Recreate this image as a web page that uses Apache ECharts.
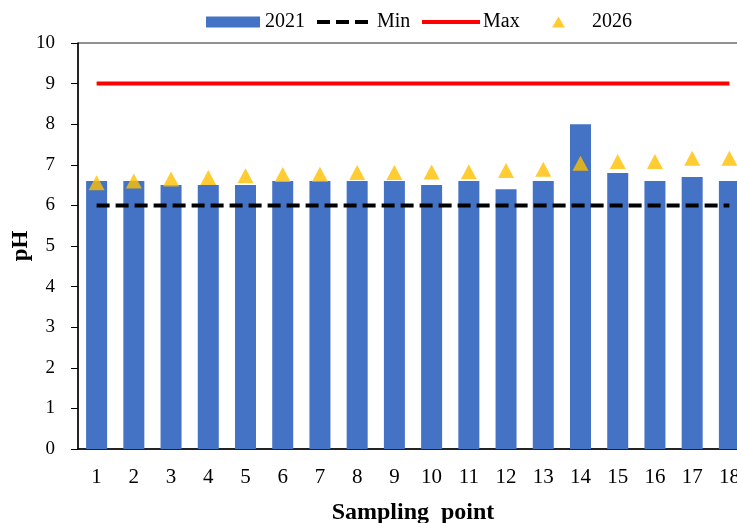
<!DOCTYPE html>
<html>
<head>
<meta charset="utf-8">
<script src="https://cdn.jsdelivr.net/npm/echarts@6/dist/echarts.min.js"></script>
<style>
  html, body { margin: 0; padding: 0; background: #fff; overflow: hidden; }
  /* 图比窗口宽一点，右边被裁掉，和原图一样 */
  #chart { width: 760px; height: 523px; }
</style>
</head>
<body>
<div id="chart"></div>
<script>
// 采样点
var points = ['1', '2', '3', '4', '5', '6', '7', '8', '9', '10', '11', '12', '13', '14', '15', '16', '17', '18'];
// 2021 实测
var ph2021 = [6.6, 6.6, 6.5, 6.5, 6.5, 6.6, 6.6, 6.6, 6.6, 6.5, 6.6, 6.4, 6.6, 8.0, 6.8, 6.6, 6.7, 6.6];
// 2026 预测
var ph2026 = [6.56, 6.6, 6.65, 6.69, 6.73, 6.76, 6.77, 6.81, 6.81, 6.82, 6.83, 6.86, 6.89, 7.04, 7.08, 7.08, 7.16, 7.16];
// 标准上下限
var minLimit = [6, 6, 6, 6, 6, 6, 6, 6, 6, 6, 6, 6, 6, 6, 6, 6, 6, 6];
var maxLimit = [9, 9, 9, 9, 9, 9, 9, 9, 9, 9, 9, 9, 9, 9, 9, 9, 9, 9];

(function () {
    var myChart = echarts.init(document.querySelector("#chart"));
    var font = 'Liberation Serif';
    var legendText = { fontFamily: font, fontSize: 20, color: '#000' };
    option = {
        animation: false,
        textStyle: { fontFamily: font },
        //图例分开放，每个图标大小不一样
        legend: [
            {
                top: 12, left: 206, padding: 0,
                itemWidth: 54, itemHeight: 11,
                textStyle: legendText,
                data: [{ name: '2021', icon: 'rect' }]
            },
            {
                top: 12, left: 317, padding: 0,
                itemWidth: 51, itemHeight: 4,
                textStyle: Object.assign({ padding: [0, 0, 0, 4] }, legendText),
                data: [{ name: 'Min', icon: 'path://M0,0h13v4h-13z M19,0h13v4h-13z M38,0h13v4h-13z' }]
            },
            {
                top: 12, left: 422, padding: 0,
                itemWidth: 58, itemHeight: 4,
                textStyle: Object.assign({ padding: [0, 0, 0, -2] }, legendText),
                data: [{ name: 'Max', icon: 'rect' }]
            },
            {
                top: 12, left: 552, padding: 0,
                itemWidth: 13, itemHeight: 11,
                textStyle: Object.assign({ padding: [0, 0, 0, 22] }, legendText),
                data: [{ name: '2026', icon: 'triangle' }]
            }
        ],
        grid: {
            left: 78,
            top: 43,
            width: 670,
            height: 406,
            outerBoundsMode: 'none',
            containLabel: false,
            show: true,
            borderColor: '#222',
            borderWidth: 1
        },
        xAxis: {
            type: 'category',
            data: points,
            name: 'Sampling  point',
            nameLocation: 'middle',
            nameGap: 52,
            nameMoveOverlap: false,
            nameTextStyle: { fontFamily: font, fontSize: 24, fontWeight: 'bold', color: '#000' },
            axisLine: { lineStyle: { color: '#000', width: 1.5 } },
            axisTick: { show: false },
            axisLabel: { fontFamily: font, fontSize: 21, color: '#000', margin: 18 }
        },
        yAxis: {
            type: 'value',
            min: 0,
            max: 10,
            interval: 1,
            name: 'pH',
            nameLocation: 'middle',
            nameGap: 45,
            nameMoveOverlap: false,
            nameTextStyle: { fontFamily: font, fontSize: 23, fontWeight: 'bold', color: '#000' },
            axisLine: { show: true, lineStyle: { color: '#000', width: 1.5 } },
            axisTick: { show: true, inside: false, length: 7, lineStyle: { color: '#000' } },
            splitLine: { show: false },
            axisLabel: { fontFamily: font, fontSize: 19, color: '#000', margin: 23 }
        },
        series: [
            {
                name: '2021',
                type: 'bar',
                barWidth: 21,
                itemStyle: { color: '#4472C4' },
                data: ph2021
            },
            {
                name: 'Min',
                type: 'line',
                symbol: 'none',
                color: '#000',
                lineStyle: { color: '#000', width: 4, type: [13, 6] },
                data: minLimit
            },
            {
                name: 'Max',
                type: 'line',
                symbol: 'none',
                color: '#FF0000',
                lineStyle: { color: '#FF0000', width: 4 },
                data: maxLimit
            },
            {
                name: '2026',
                type: 'scatter',
                symbol: 'triangle',
                symbolSize: [16, 15],
                itemStyle: { color: '#FFC000' },
                data: ph2026
            }
        ]
    };
    myChart.setOption(option);
    window.addEventListener("resize", function () {
        myChart.resize();
    });
})();
</script>
</body>
</html>
